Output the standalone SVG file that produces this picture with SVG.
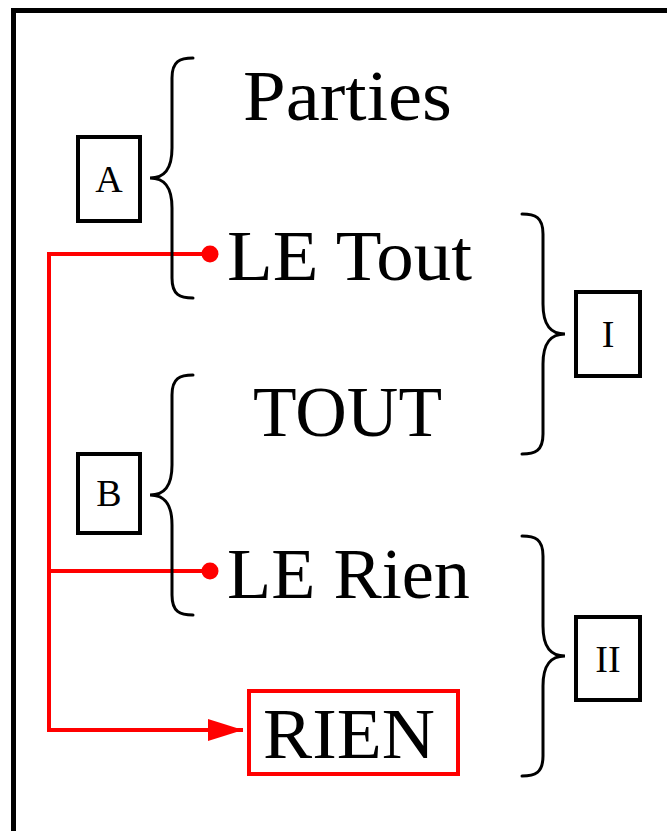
<svg xmlns="http://www.w3.org/2000/svg" width="667" height="831" viewBox="0 0 667 831">
  <style>
    .big { font-family: "Liberation Serif", "Times New Roman", serif; font-size: 72px; fill: #000; }
    .small { font-family: "Liberation Serif", "Times New Roman", serif; font-size: 38px; fill: #000; text-anchor: middle; }
    .box { fill: #fff; stroke: #000; stroke-width: 4; }
    .brace { fill: none; stroke: #000; stroke-width: 3; stroke-linecap: round; }
    .link { fill: none; stroke: #ff0000; stroke-width: 4; }
    .dot { fill: #ff0000; }
  </style>
  <defs>
    <marker id="arrow" viewBox="0 0 35 22" refX="35" refY="11" markerWidth="35" markerHeight="22" markerUnits="userSpaceOnUse" orient="auto">
      <path d="M0,0 L35,11 L0,22 z" fill="#ff0000"/>
    </marker>
    <!-- opening brace, drawn around its tip at (0,0) -->
    <path id="braceL" class="brace" d="M43,-120 C30,-120 22,-117 22,-100 L22,-30 C22,-8 14,0 0,0 C14,0 22,8 22,30 L22,100 C22,117 30,120 43,120"/>
    <!-- closing brace, tip at (0,0) -->
    <path id="braceR" class="brace" d="M-43,-120 C-30,-120 -22,-117 -22,-100 L-22,-30 C-22,-8 -14,0 0,0 C-14,0 -22,8 -22,30 L-22,100 C-22,117 -30,120 -43,120"/>
  </defs>

  <rect width="667" height="831" fill="#fff"/>
  <!-- outer frame -->
  <rect x="13.5" y="10.5" width="700" height="900" fill="none" stroke="#000" stroke-width="5"/>

  <g id="connectors">
    <path class="link" d="M210,254 H49 V730 H243" marker-end="url(#arrow)"/>
    <path class="link" d="M49,571 H210"/>
    <circle class="dot" cx="210" cy="254" r="8.5"/>
    <circle class="dot" cx="210" cy="571" r="8.5"/>
  </g>

  <g id="brace-a"><use href="#braceL" x="150" y="178"/></g>
  <g id="brace-b"><use href="#braceL" x="150" y="495"/></g>
  <g id="brace-i"><use href="#braceR" x="565" y="334"/></g>
  <g id="brace-ii"><use href="#braceR" x="565" y="656"/></g>

  <g id="label-a">
    <rect class="box" x="78" y="137" width="62" height="84"/>
    <text class="small" x="109" y="192">A</text>
  </g>
  <g id="label-b">
    <rect class="box" x="78" y="454" width="62" height="79"/>
    <text class="small" x="109" y="506">B</text>
  </g>
  <g id="label-i">
    <rect class="box" x="576" y="292" width="64" height="84"/>
    <text class="small" x="608" y="347">I</text>
  </g>
  <g id="label-ii">
    <rect class="box" x="576" y="617" width="64" height="83"/>
    <text class="small" x="608" y="672">II</text>
  </g>

  <g id="parties"><text class="big" x="243" y="120" textLength="209" lengthAdjust="spacingAndGlyphs">Parties</text></g>
  <g id="le-tout"><text class="big" x="227" y="280" textLength="245" lengthAdjust="spacingAndGlyphs">LE Tout</text></g>
  <g id="tout"><text class="big" x="253" y="436" textLength="189" lengthAdjust="spacingAndGlyphs">TOUT</text></g>
  <g id="le-rien"><text class="big" x="227" y="598" textLength="243" lengthAdjust="spacingAndGlyphs">LE Rien</text></g>
  <g id="rien">
    <rect x="249" y="691" width="209" height="83" fill="none" stroke="#ff0000" stroke-width="4"/>
    <text class="big" x="263" y="758" textLength="172" lengthAdjust="spacingAndGlyphs">RIEN</text>
  </g>
</svg>
